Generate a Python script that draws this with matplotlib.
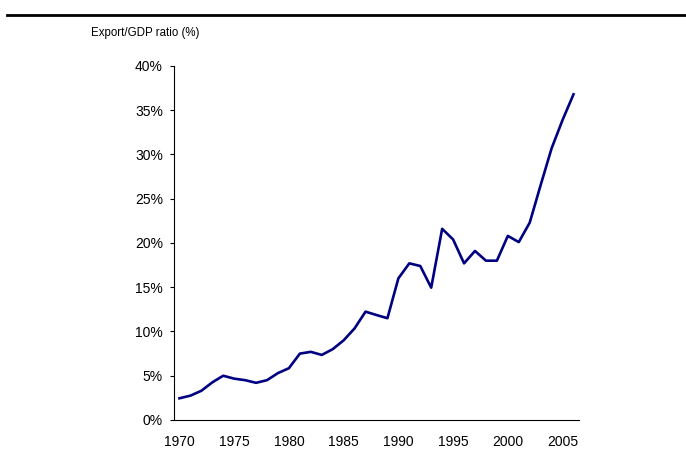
import matplotlib.pyplot as plt
from matplotlib.lines import Line2D
from matplotlib.ticker import FuncFormatter

plt.rcParams['font.family'] = ['Liberation Sans', 'DejaVu Sans']

# data
years = list(range(1970, 2007))
export_ratio = [2.45, 2.75, 3.3, 4.25, 5.0, 4.67, 4.5, 4.2, 4.5, 5.3,
                5.85, 7.5, 7.7, 7.35, 8.0, 9.0, 10.35, 12.24, 11.86, 11.5,
                16.0, 17.7, 17.4, 14.95, 21.6, 20.4, 17.7, 19.1, 18.0, 18.0,
                20.8, 20.1, 22.3, 26.55, 30.7, 33.9, 36.8]
xtick_years = [1970, 1975, 1980, 1985, 1990, 1995, 2000, 2005]
ytick_vals = [0, 5, 10, 15, 20, 25, 30, 35, 40]

fig = plt.figure(figsize=(6.86, 4.72), dpi=100)
ax = fig.add_axes([0.2536, 0.1102, 0.5904, 0.75])

ax.plot(years, export_ratio, color='#000080', linewidth=1.9)

ax.set_xlim(1969.5, 2006.5)
ax.set_ylim(0, 40)
ax.set_xticks(xtick_years)
ax.set_yticks(ytick_vals)
ax.yaxis.set_major_formatter(FuncFormatter(lambda v, p: '%d%%' % v))
ax.tick_params(axis='x', length=0, pad=11, labelsize=10)
ax.tick_params(axis='y', length=3, width=0.8, pad=5, labelsize=10, direction='out')

for s in ['top', 'right']:
    ax.spines[s].set_visible(False)
for s in ['left', 'bottom']:
    ax.spines[s].set_linewidth(0.8)
    ax.spines[s].set_color('black')

# label above the axis
fig.text(91 / 686, 1 - 33 / 472, 'Export/GDP ratio (%)', fontsize=8.3,
         ha='left', va='center')

# thick rule across the top
fig.add_artist(Line2D([7 / 686, 1.0], [1 - 14.7 / 472, 1 - 14.7 / 472],
                      color='black', linewidth=2, transform=fig.transFigure))

plt.savefig('out.png', dpi=100)
plt.close()
